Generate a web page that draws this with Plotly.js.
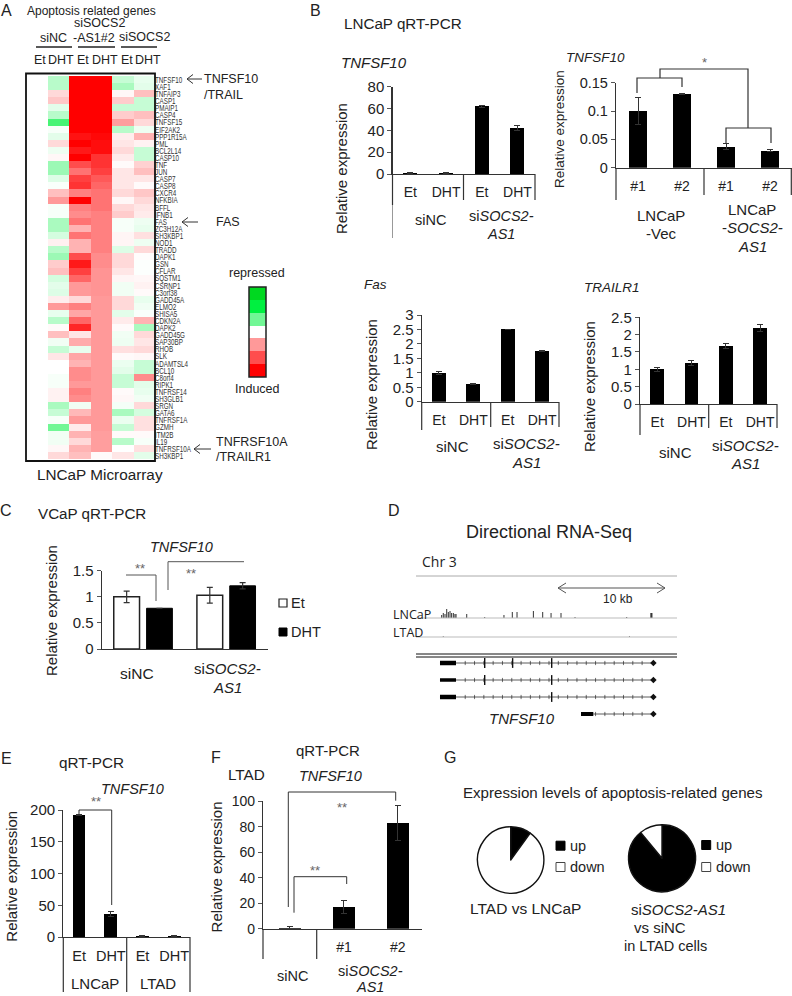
<!DOCTYPE html>
<html><head><meta charset="utf-8">
<script src="https://cdn.plot.ly/plotly-3.0.1.min.js"></script>
<style>html,body{margin:0;padding:0;background:#fff}#c{width:792px;height:996px}</style>
</head><body><div id="c"></div>
<script>
// ---------- DATA ----------
const geneLabels=["TNFSF10","XAF1","TNFAIP3","CASP1","PMAIP1","CASP4","TNFSF15","EIF2AK2","PPP1R15A","PML","BCL2L14","CASP10","TNF","JUN","CASP7","CASP8","CXCR4","NFKBIA","BFFL","IFNB1","FAS","ZC3H12A","SH3KBP1","NOD1","TRADD","DAPK1","GSN","CFLAR","SQSTM1","CSRNP1","C3orf38","GADD45A","ELMO2","SHISA5","CDKN2A","DAPK2","GADD45G","SAP30BP","RHOB","SLK","ADAMTSL4","BCL10","C8orf4","RIPK1","TNFRSF14","SH3GLB1","SRGN","GATA6","TNFRSF1A","GZMH","ITM2B","IL19","TNFRSF10A","SH3KBP1"];
const heatSiNCEt=[0,0,0,0,0,0,0,0,0,0,0,0,0,0,0,0,0,0,0,0,0,0,0,0,0,0,0,0,0,0,0,0,0,0,0,0,0,0,0,0,0,0,0,0,0,0,0,0,0,0,0,0,0,0];
const heatSiNCDHT=[-.25,-.25,.15,.22,-.1,-.25,-.65,-.03,-.1,.15,-.06,.03,-.35,-.35,-.12,-.02,.25,.4,-.03,-.03,-.3,-.3,-.15,.06,-.25,-.35,.2,.25,-.15,-.1,-.12,.07,.4,-.08,-.25,.02,.25,-.05,-.2,.1,0,0,-.03,-.03,.05,.05,-.3,-.2,-.03,-.5,-.05,-.05,.03,.15];
const heatAsEt=[1,1,1,1,1,1,1,1,.93,1,.9,1,.7,.55,.75,.8,.5,1,.5,.45,.55,.3,.55,.3,.3,.7,.9,.75,.6,.4,.4,.15,.5,.35,.6,.85,.1,.33,-.08,.35,.3,.45,.45,.4,.5,.45,-.05,.28,.4,.08,.3,.15,.3,.25];
const heatAsDHT=[1,1,1,1,1,1,1,1,.97,.95,.95,.8,.8,.75,.65,.6,.55,.55,.55,.5,.5,.5,.5,.5,.5,.45,.45,.42,.42,.42,.42,.4,.4,.4,.4,.4,.4,.4,.4,.4,.4,.4,.4,.4,.4,.4,.4,.4,.4,.4,.38,.38,.38,.02];
const heatSocsEt=[-.2,-.3,.03,.2,-.2,.2,.38,-.25,.07,.1,.15,.08,.02,.1,.1,.1,.15,.03,.15,.2,-.03,-.03,.04,.04,-.12,.15,.15,.1,.04,-.05,-.05,.15,.15,-.1,.08,.02,-.05,-.06,.12,.02,-.07,-.1,-.2,-.2,.02,.03,-.04,-.3,-.07,-.2,.02,-.25,0,.1];
const heatSocsDHT=[-.08,-.1,.25,-.2,-.2,.25,.15,-.06,.3,.05,-.2,-.2,.18,.25,.1,.02,.22,.15,.1,.08,-.06,-.08,.12,-.06,.15,.01,-.01,-.01,.03,.05,.02,-.08,-.05,-.02,.3,-.3,.15,.1,.15,.03,-.2,-.2,.45,-.1,-.08,-.05,.15,-.15,.12,.12,.02,-.03,.12,-.1];
const heatScaleZ=[[-1],[-.9],[-.5],[0],[.4],[.7],[1]];

const etDht=["Et","DHT","Et","DHT"];
const b1Values=[.8,.8,62,42], b1Errors=[.2,.2,1.2,2.2];
const b2Ticks=["#1","#2","#1","#2"];
const b2Values=[.1,.13,.037,.03], b2Errors=[.024,.001,.005,.002];
const fasValues=[1,.62,2.5,1.75], fasErrors=[.05,.01,.01,.03];
const trailValues=[1,1.18,1.67,2.18], trailErrors=[.05,.07,.06,.1];
const cGroups=["siNC","si<i>SOCS2-</i><br><i>AS1</i>"];
const cEt=[1,1.03], cEtErrors=[.11,.15];
const cDht=[.78,1.21], cDhtErrors=[0,.06];
const eValues=[192,36,2,1.5], eErrors=[1,4,.8,.5];
const fTicks=["","#1","#2"];
const fValues=[.8,17,83], fErrors=[1.2,5,13.5];
const pieLabels=["up","down"];
const pieLtad=[10,90], pieSi=[89,11];

// RNA-seq, positions in kb from the left of the window, heights in track units
const lncapPeakKb=[2.40,2.55,2.71,2.87,3.02,3.18,3.33,3.49,3.64,3.74,4.74,6.42,8.22,9.0,9.44,10.97,11.84,12.62,13.55,14.86,19.69,21.95,22.0,22.05];
const lncapPeakH=[3,5,4,9,6,7,5,5,4,4,4,1,3,6,6,7,6,5,5,1,1,5,5,5];
const ltadPeakKb=[2.55,19.95], ltadPeakH=[1,1];
const intronKb=[4.6,5.47,6.34,7.21,8.08,8.95,9.82,10.69,11.56,12.43,13.3,14.17,15.04,15.91,16.78,17.65,18.52,19.39,20.26,21.13];
const intronKb4=[16.78,17.65,18.52,19.39,20.26,21.13];
const geneSpan=[2.24,22.18], gene4Span=[16.57,22.18];
const utrSpan=[2.24,3.74], utr4Span=[15.42,16.57];
const gene1Exons=[6.42,9.03,12.68], gene2Exons=[6.42,12.68], gene3Exons=[12.68];

// ---------- HELPERS ----------
const W=792,H=996;
const FONT='"Liberation Sans",Arial,sans-serif';
const INK='#222';
const fx=x=>x/W, fy=y=>1-y/H;
const traces=[],shapes=[],annotations=[];
const layout={width:W,height:H,margin:{l:0,r:0,t:0,b:0},paper_bgcolor:'#fff',plot_bgcolor:'rgba(0,0,0,0)',showlegend:false,font:{family:FONT,color:INK},shapes,annotations,bargap:0};
let axN=0;
function nextAxes(xa,ya){axN++;const s=axN===1?'':axN;layout['xaxis'+s]=Object.assign({anchor:'y'+s,fixedrange:true},xa);layout['yaxis'+s]=Object.assign({anchor:'x'+s,fixedrange:true},ya);return ['x'+s,'y'+s];}
function T(text,x,y,size,o){o=o||{};annotations.push(Object.assign({text,x:fx(x),y:fy(y),xref:'paper',yref:'paper',showarrow:false,xanchor:'center',yanchor:'middle',borderpad:0},o,{font:{size:size||14,family:o.family||FONT,color:o.color||INK}}));}
function P(pts,color,width){shapes.push({type:'path',xref:'paper',yref:'paper',path:'M'+pts.map(p=>fx(p[0])+','+fy(p[1])).join('L'),line:{color:color||'#333',width:width||1.2},fillcolor:'rgba(0,0,0,0)'});}
function ylab(x,y,size){T('Relative expression',x,y,size||15,{textangle:-90});}
function stars(text,x,y){T(text,x,y,13,{color:'#666'});}

function barPanel(o){
  const [xa,ya]=nextAxes(
    {domain:[fx(o.x0),fx(o.x1)],range:o.xrange||[-.5,o.values.length-.5],tickmode:'array',tickvals:o.values.map((v,i)=>i),ticktext:o.ticks,showline:true,linecolor:'#333',linewidth:1.2,ticks:'',tickfont:{size:o.tick||14,color:INK},ticklabelstandoff:o.standoff==null?5:o.standoff,zeroline:false,showgrid:false},
    {domain:[fy(o.y0),fy(o.y1)],range:[0,o.ymax],tickmode:'array',tickvals:o.ytickvals,ticktext:o.yticktext,showline:true,linecolor:'#333',linewidth:1.2,ticks:'outside',ticklen:4,tickcolor:'#555',tickfont:{size:o.ytick||15,color:INK},zeroline:false,showgrid:false});
  traces.push({type:'bar',x:o.values.map((v,i)=>i),y:o.values,xaxis:xa,yaxis:ya,width:o.barw,marker:{color:'#000'},error_y:{type:'data',array:o.errors,visible:true,color:'#333',thickness:1,width:3}});
}

// ---------- PANEL A ----------
{
  const [xa,ya]=nextAxes(
    {domain:[fx(26),fx(155)],range:[-.5,5.5],visible:false},
    {domain:[fy(459),fy(76)],range:[53.5,-.5],side:'right',tickmode:'array',tickvals:geneLabels.map((g,i)=>i),ticktext:geneLabels,tickfont:{size:9.5,color:'#333'},ticks:'',showline:false,zeroline:false,showgrid:false,ticklabelstandoff:-1});
  const z=geneLabels.map((g,i)=>[heatSiNCEt[i],heatSiNCDHT[i],heatAsEt[i],heatAsDHT[i],heatSocsEt[i],heatSocsDHT[i]]);
  const scale=[[0,'#00d820'],[.05,'#00f040'],[.5,'#ffffff'],[1,'#ff0000']];
  traces.push({type:'heatmap',z,xaxis:xa,yaxis:ya,zmin:-1,zmax:1,colorscale:scale,showscale:false,hoverongaps:false,xgap:0,ygap:0});
  const [xb,yb]=nextAxes({domain:[fx(249),fx(266)],range:[-.5,.5],visible:false},{domain:[fy(377),fy(287)],range:[6.5,-.5],visible:false});
  traces.push({type:'heatmap',z:heatScaleZ,xaxis:xb,yaxis:yb,zmin:-1,zmax:1,colorscale:scale,showscale:false});
  shapes.push({type:'rect',xref:'paper',yref:'paper',x0:fx(249),x1:fx(266),y0:fy(377),y1:fy(287),line:{color:'#222',width:1.5}});
  shapes.push({type:'rect',xref:'paper',yref:'paper',x0:fx(26),x1:fx(155),y0:fy(461),y1:fy(73.5),line:{color:'#111',width:1.8}});
  T('A',6,10,16);
  T('Apoptosis related genes',91,11,12);
  T('siSOCS2',99,23,12.5); T('-AS1#2',94,38,12.5); T('siNC',53,38,12.5); T('siSOCS2',144,36.5,12.5);
  P([[36,47],[72,47]],'#222',1.4); P([[78,47],[115,47]],'#222',1.4); P([[121,47],[157,47]],'#222',1.4);
  [['Et',40],['DHT',61],['Et',83],['DHT',105],['Et',127],['DHT',148]].forEach(a=>T(a[0],a[1],60,12.5));
  const arrow=(x0,x1,y)=>{P([[x1,y],[x0,y]],'#333',1);P([[x0+6,y-4.5],[x0,y],[x0+6,y+4.5]],'#333',1);};
  arrow(187,202,79); T('TNFSF10',203,79,12.5,{xanchor:'left'}); T('/TRAIL',203,95,12.5,{xanchor:'left'});
  arrow(182,198,222); T('FAS',228,222,12.5);
  arrow(194,211,449); T('TNFRSF10A',215,442,12.5,{xanchor:'left'}); T('/TRAILR1',215,457,12.5,{xanchor:'left'});
  T('repressed',257,273,12.5); T('Induced',257,389,12.5);
  T('LNCaP Microarray',100,475,15.3);
}

// ---------- PANEL B ----------
T('B',315,10,16); T('LNCaP qRT-PCR',343,24,15.2,{xanchor:'left'});
barPanel({x0:392.5,x1:535.3,y0:174,y1:86.7,values:b1Values,errors:b1Errors,ticks:etDht,barw:.39,ymax:80,ytickvals:[0,20,40,60,80],yticktext:['0','20','40','60','80']});
T('<i>TNFSF10</i>',340,62,15,{xanchor:'left'}); ylab(341,169);
P([[392.5,174],[392.5,205]]); P([[392.5,205],[392.5,238]],'#999',1);
P([[463.5,174],[463.5,200]]); P([[535,174],[535,200]]);
T('siNC',430,220,14.5); T('si<i>SOCS2-</i>',501,216,14.5); T('<i>AS1</i>',501,234,14.5);

barPanel({x0:616,x1:792,y0:167.7,y1:82.7,values:b2Values,errors:b2Errors,ticks:b2Ticks,barw:.4,ymax:.15,ytick:14.5,ytickvals:[0,.05,.1,.15],yticktext:['0','0.05','0.1','0.15']});
T('<i>TNFSF10</i>',565,57,13.5,{xanchor:'left'}); ylab(559,129,13.5);
P([[616,168],[616,200]]); P([[704,168],[704,195]]); P([[791.3,168],[791.3,195]]);
P([[637,93],[637,78],[682,78],[682,87]]); P([[660,78],[660,69],[748,69],[748,128]]);
P([[726,143],[726,128],[771,128],[771,143]]);
stars('*',704,62);
T('LNCaP',661,215,15); T('-Vec',661,233,15);
T('LNCaP',752,210,15); T('-<i>SOCS2-</i>',752,228,15); T('<i>AS1</i>',752,247,15);

barPanel({x0:421.7,x1:559.3,y0:401.7,y1:315,values:fasValues,errors:fasErrors,ticks:etDht,barw:.4,ymax:3,ytickvals:[0,.5,1,1.5,2,2.5,3],yticktext:['0','0.5','1','1.5','2','2.5','3']});
T('<i>Fas</i>',363,284,13.5,{xanchor:'left'}); ylab(372,385);
P([[421.7,402],[421.7,430]]); P([[490.7,402],[490.7,427]]); P([[559,402],[559,427]]);
T('siNC',452,446,15); T('si<i>SOCS2-</i>',526,443,15); T('<i>AS1</i>',526,462,15);

barPanel({x0:640,x1:777.3,y0:404,y1:317.3,values:trailValues,errors:trailErrors,ticks:etDht,barw:.4,ymax:2.5,ytickvals:[0,.5,1,1.5,2,2.5],yticktext:['0','0.5','1','1.5','2','2.5']});
T('<i>TRAILR1</i>',583,287,13.5,{xanchor:'left'}); ylab(590,387);
P([[640,404],[640,435]]); P([[708.7,404],[708.7,428]]); P([[777,404],[777,428]]);
T('siNC',675,452,15); T('si<i>SOCS2-</i>',745,445,15); T('<i>AS1</i>',745,463,15);

// ---------- PANEL C ----------
{
  const [xa,ya]=nextAxes(
    {domain:[fx(101.7),fx(268)],range:[-.5,1.5],tickmode:'array',tickvals:[0,1],ticktext:['',''],showline:true,linecolor:'#333',linewidth:1.2,ticks:'',zeroline:false,showgrid:false},
    {domain:[fy(649),fy(570.7)],range:[0,1.5],tickmode:'array',tickvals:[0,.5,1,1.5],ticktext:['0','0.5','1','1.5'],showline:true,linecolor:'#333',linewidth:1.2,ticks:'outside',ticklen:4,tickcolor:'#555',tickfont:{size:15,color:INK},zeroline:false,showgrid:false});
  traces.push({type:'bar',name:'Et',x:[0,1],y:cEt,xaxis:xa,yaxis:ya,width:.31,offset:-.355,marker:{color:'#fff',line:{color:'#222',width:1.5}},error_y:{type:'data',array:cEtErrors,visible:true,color:'#333',thickness:1.2,width:3}});
  traces.push({type:'bar',name:'DHT',x:[0,1],y:cDht,xaxis:xa,yaxis:ya,width:.31,offset:.04,marker:{color:'#000',line:{color:'#000',width:1}},error_y:{type:'data',array:cDhtErrors,visible:true,color:'#333',thickness:1.2,width:3}});
  T('C',6,510,16); T('VCaP qRT-PCR',37,513,15.2,{xanchor:'left'}); T('<i>TNFSF10</i>',181,547,14.5); ylab(51,611);
  P([[126,575],[156,575],[156,601]],'#555',1); stars('**',140,568);
  P([[168,590],[168,561.7],[244,561.7]],'#555',1); stars('**',191,573);
  T(cGroups[0],137,673,15.5); T(cGroups[1].split('<br>')[0],227,668,15); T(cGroups[1].split('<br>')[1],227,687,15);
  shapes.push({type:'rect',xref:'paper',yref:'paper',x0:fx(279),x1:fx(287),y0:fy(607),y1:fy(599),line:{color:'#222',width:1.2},fillcolor:'#fff'});
  shapes.push({type:'rect',xref:'paper',yref:'paper',x0:fx(279),x1:fx(287),y0:fy(636),y1:fy(628),line:{color:'#000',width:1},fillcolor:'#000'});
  T('Et',290,603,14.5,{xanchor:'left'}); T('DHT',290,632,14.5,{xanchor:'left'});
}

// ---------- PANEL D ----------
{
  const [xa,ya]=nextAxes({domain:[fx(416),fx(677)],range:[0,24.39],visible:false},{domain:[fy(725),fy(600)],range:[125,0],visible:false});
  const stems=(kb,h,base)=>{const xs=[],ys=[];kb.forEach((k,i)=>{xs.push(k,k,null);ys.push(base,base-h[i],null);});return {xs,ys};};
  const lin=(x,y,w,c)=>traces.push({type:'scatter',mode:'lines',x,y,xaxis:xa,yaxis:ya,line:{color:c||'#222',width:w},connectgaps:false,hoverinfo:'skip'});
  const mk=(x,row,sym,size,lw)=>traces.push({type:'scatter',mode:'markers',x,y:x.map(()=>row),xaxis:xa,yaxis:ya,marker:{symbol:sym,size,color:'#111',line:{color:'#111',width:lw}},hoverinfo:'skip'});
  const s1=stems(lncapPeakKb,lncapPeakH,18); lin(s1.xs,s1.ys,1,'#333');
  const s2=stems(ltadPeakKb,ltadPeakH,37); lin(s2.xs,s2.ys,1,'#777');
  const gene=(row,span,utr,utrW,exons,ticks)=>{lin(span,[row,row],.8,'#333');lin(utr,[row,row],utrW,'#000');mk(ticks,row,'line-ns',3,.6);if(exons.length)mk(exons,row,'line-ns',7,1.4);mk([span[1]],row,'diamond',5,0);};
  gene(63,geneSpan,utrSpan,4.5,gene1Exons,intronKb);
  gene(80,geneSpan,utrSpan,3.5,gene2Exons,intronKb);
  gene(97,geneSpan,utrSpan,4.5,gene3Exons,intronKb);
  gene(114,gene4Span,utr4Span,4,[],intronKb4);
  T('D',394,510,16); T('Directional RNA-Seq',549,532,18);
  T('Chr 3',421,561,14,{xanchor:'left',family:'"Open Sans",sans-serif'});
  P([[416,576],[677,576]],'#aaa',1);
  P([[558,588],[665,588]],'#555',1.2); P([[566,583],[558,588],[566,593]],'#555',1); P([[657,583],[665,588],[657,593]],'#555',1);
  T('10 kb',618,599,12);
  T('LNCaP',392,614,12.5,{xanchor:'left',family:'"Open Sans",sans-serif'}); T('LTAD',392,632,12.5,{xanchor:'left',family:'"Open Sans",sans-serif'});
  P([[416,618],[677,618]],'#bbb',1); P([[416,637],[677,637]],'#bbb',1);
  P([[416,654],[677,654]],'#111',1); P([[416,657],[677,657]],'#111',1);
  T('<i>TNFSF10</i>',522,718,15);
}

// ---------- PANEL E ----------
barPanel({x0:63.3,x1:190,y0:937,y1:810,values:eValues,errors:eErrors,ticks:etDht,barw:.4,ymax:200,ytickvals:[0,50,100,150,200],yticktext:['0','50','100','150','200'],tick:14.5});
T('E',6,758,16); T('qRT-PCR',58,762,15.3,{xanchor:'left'}); T('<i>TNFSF10</i>',132,789,14.5); ylab(10.7,876);
P([[63.3,937],[63.3,992]]); P([[126.7,937],[126.7,992]]); P([[190,937],[190,992]]);
T('LNCaP',95,983,15); T('LTAD',158,983,15);
P([[79,814],[79,810],[111.7,810],[111.7,905]],'#333',1); stars('**',96,801);

// ---------- PANEL F ----------
barPanel({x0:263,x1:421.6,y0:928.7,y1:801.3,values:fValues,errors:fErrors,ticks:fTicks,barw:.4,ymax:100,ytick:14,xrange:[-.5,2.44],ytickvals:[0,20,40,60,80,100],yticktext:['0','20','40','60','80','100']});
T('F',216,757,16); T('qRT-PCR',328,750,15); T('LTAD',246,774,15.3); T('<i>TNFSF10</i>',330,776,14.5); ylab(216.7,866.7);
P([[263,929],[263,959]]); P([[316.7,929],[316.7,959]]);
T('siNC',292,976,14.5); T('si<i>SOCS2-</i>',370,971,14.5); T('<i>AS1</i>',370,987,14.5);
P([[288.3,907],[288.3,792],[395.7,792],[395.7,800.7]],'#333',1);
P([[294,912.7],[294,876.7],[346.7,876.7],[346.7,884]],'#333',1);
stars('**',342,807); stars('**',315,870);

// ---------- PANEL G ----------
function pie(values,cx,cy,r,name){traces.push({type:'pie',name,labels:pieLabels,values,sort:false,direction:'clockwise',rotation:0,textinfo:'none',hoverinfo:'label+percent',domain:{x:[fx(cx-r),fx(cx+r)],y:[fy(cy+r),fy(cy-r)]},marker:{colors:['#000','#fff'],line:{color:'#111',width:1.4}}});}
pie(pieLtad,510.7,860,33.2,'LTAD vs LNCaP');
pie(pieSi,662,858.3,33.5,'siSOCS2-AS1 vs siNC');
T('G',450,757,16); T('Expression levels of apoptosis-related genes',612.7,792,15.1);
function pieKey(x,yUp,yDown){
  shapes.push({type:'rect',xref:'paper',yref:'paper',x0:fx(x),x1:fx(x+9),y0:fy(yUp+4.5),y1:fy(yUp-4.5),line:{color:'#000',width:1},fillcolor:'#000'});
  shapes.push({type:'rect',xref:'paper',yref:'paper',x0:fx(x),x1:fx(x+9),y0:fy(yDown+4.5),y1:fy(yDown-4.5),line:{color:'#444',width:1},fillcolor:'#fff'});
  T(pieLabels[0],x+13,yUp,14.5,{xanchor:'left'}); T(pieLabels[1],x+13,yDown,14.5,{xanchor:'left'});
}
pieKey(556,845.7,867); pieKey(701.7,845,867);
T('LTAD vs LNCaP',525,908,15.5); T('si<i>SOCS2-AS1</i>',678,909,15); T('vs siNC',660,927,15); T('in LTAD cells',665,946,14.5);

Plotly.newPlot('c',traces,layout,{staticPlot:true,displayModeBar:false}).then(()=>{
  // the gene labels are set in a condensed face in the reference: condense the live text
  const names=new Set(geneLabels);
  document.querySelectorAll('.ytick text').forEach(t=>{
    if(names.has(t.textContent)){t.setAttribute('lengthAdjust','spacingAndGlyphs');t.setAttribute('textLength',(t.getComputedTextLength()*.66).toFixed(1));}
  });
});
</script></body></html>
